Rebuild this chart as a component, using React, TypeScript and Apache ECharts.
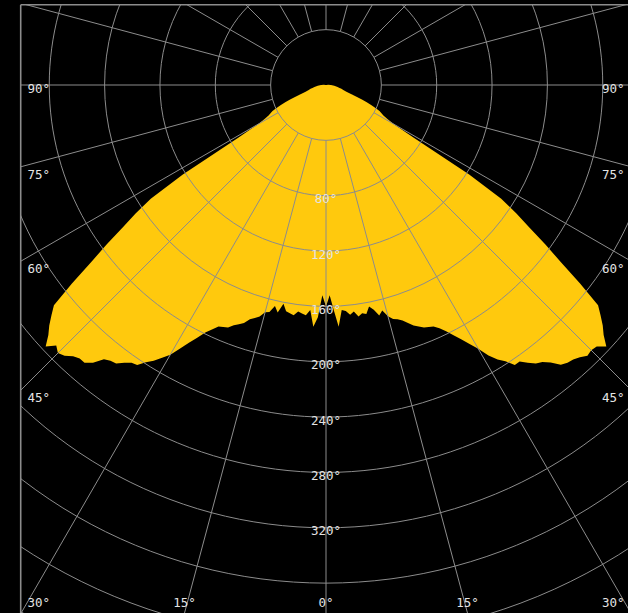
import React, { useEffect, useRef } from 'react';
import * as echarts from 'echarts';

// Polar angles (degrees from nadir) at which the intensity was read
const angles = [
  0, 1, 2, 3, 4, 5, 6, 7, 8, 9,
  10, 11, 12, 13, 14, 15, 16, 17, 18, 19,
  20, 21, 22, 23, 24, 25, 26, 27, 28, 29,
  30, 31, 32, 33, 34, 35, 36, 37, 38, 39,
  40, 41, 42, 43, 44, 45, 46, 47, 48, 49,
  50, 51, 52, 53, 54, 55, 56, 57, 58, 59,
  60, 61, 62, 63, 64, 65, 66, 67, 68, 69,
  70, 72, 74, 76, 78, 80, 85, 90, 95, 100, 180,
];

// Intensity on the left half (angles measured to the left of nadir)
const leftIntensity = [
  160, 152, 168, 175, 163, 167, 166, 165, 168, 167,
  166, 161, 168, 164, 169, 170, 174, 176, 178, 182,
  184, 186, 189, 190, 191, 195, 199, 205, 211, 218,
  225, 230, 235, 239, 244, 245, 248, 252, 253, 255,
  262, 266, 266, 268, 272, 274, 271, 277, 270, 265,
  259, 253, 233, 212, 196, 179, 166, 151, 122, 74,
  57, 51, 47, 45, 43, 40, 36, 32, 28, 24,
  20, 15.5, 13, 11.5, 10, 8.5, 6, 3.6, 1.5, 0.5, 0,
];

// Intensity on the right half
const rightIntensity = [
  160, 152, 163, 175, 163, 164, 167, 165, 169, 167,
  168, 163, 166, 171, 168, 173, 176, 177, 179, 182,
  185, 187, 189, 190, 191, 194, 198, 203, 208, 214,
  220, 228, 234, 238, 244, 244, 248, 252, 254, 258,
  264, 266, 267, 269, 272, 271, 272, 277, 270, 265,
  259, 253, 233, 212, 196, 179, 166, 151, 122, 74,
  57, 51, 47, 45, 43, 40, 36, 32, 28, 24,
  20, 15.5, 13, 11.5, 10, 8.5, 6, 3.6, 1.5, 0.5, 0,
];

// Radial tick labels shown along the nadir line
const radialLabels = [80, 120, 160, 200, 240, 280, 320];
// Angle labels shown at the frame edges
const angleLabels = [-90, -75, -60, -45, -30, -15, 0, 15, 30, 45, 60, 75, 90];

const R_MIN = 40;
const R_MAX = 480;
const R_STEP = 40;
const PX_PER_UNIT = 55.35 / 40;
const CENTER: [number, number] = [326, 85];

const YELLOW = '#ffc90d';
const GRID = '#8c8c8c';
const TEXT = '#e4e4e4';
const FONT = '"DejaVu Sans Mono", monospace';

// frame of the plot area (symmetric around the centre, cropped by the page)
const FRAME_LEFT = 20.7;
const FRAME_TOP = 4.7;
const FRAME_RIGHT = 2 * CENTER[0] - FRAME_LEFT;
const FRAME_BOTTOM = 613;
const LABEL_PAD = 6.8;
const BOTTOM_LABEL_Y = 602.3;

export default function App() {
  const ref = useRef<HTMLDivElement>(null);

  useEffect(() => {
    if (!ref.current) return;
    const chart = echarts.init(ref.current, undefined, { renderer: 'svg' });

    const points: number[][] = [];
    for (let i = angles.length - 1; i >= 0; i--) points.push([leftIntensity[i], -angles[i]]);
    for (let i = 1; i < angles.length; i++) points.push([rightIntensity[i], angles[i]]);

    chart.setOption({
      animation: false,
      backgroundColor: '#000000',
      polar: {
        center: CENTER,
        radius: [R_MIN * PX_PER_UNIT, R_MAX * PX_PER_UNIT],
      },
      angleAxis: {
        type: 'value',
        min: -180,
        max: 180,
        interval: 15,
        startAngle: 90,
        clockwise: false,
        z: 5,
        axisLine: { show: false },
        axisTick: { show: false },
        axisLabel: { show: false },
        splitLine: { show: true, lineStyle: { color: GRID, width: 1 } },
      },
      radiusAxis: {
        type: 'value',
        min: R_MIN,
        max: R_MAX,
        interval: R_STEP,
        z: 5,
        axisLine: { show: false },
        axisTick: { show: false },
        axisLabel: { show: false },
        splitLine: { show: true, lineStyle: { color: GRID, width: 1 } },
      },
      series: [
        {
          type: 'custom',
          coordinateSystem: 'polar',
          clip: false,
          silent: true,
          z: 1,
          data: points,
          renderItem: (params: any, api: any) => {
            if (params.dataIndex !== 0) return null;
            const pts = points.map((p) => api.coord(p));
            return {
              type: 'polygon',
              shape: { points: pts, smooth: 0 },
              style: { fill: YELLOW, stroke: null },
            };
          },
        },
      ],
    });

    const toPx = (v: number, a: number) =>
      chart.convertToPixel({ seriesIndex: 0 }, [v, a]) as unknown as number[];

    const elements: any[] = [];
    // masks outside the frame
    elements.push({ type: 'rect', z: 100, silent: true, shape: { x: 0, y: 0, width: FRAME_LEFT, height: 613 }, style: { fill: '#000' } });
    elements.push({ type: 'rect', z: 100, silent: true, shape: { x: 0, y: 0, width: 628, height: FRAME_TOP }, style: { fill: '#000' } });
    // frame borders
    elements.push({ type: 'line', z: 101, silent: true, shape: { x1: FRAME_LEFT, y1: FRAME_TOP, x2: 640, y2: FRAME_TOP }, style: { stroke: GRID, lineWidth: 1.6 } });
    elements.push({ type: 'line', z: 101, silent: true, shape: { x1: FRAME_LEFT, y1: FRAME_TOP, x2: FRAME_LEFT, y2: 640 }, style: { stroke: GRID, lineWidth: 1.6 } });

    // radial labels
    radialLabels.forEach((v) => {
      const p = toPx(v, 0);
      elements.push({
        type: 'text', z: 102, silent: true, x: p[0], y: p[1] + 3,
        style: { text: `${v}°`, fill: TEXT, fontFamily: FONT, fontSize: 12.5, align: 'center', verticalAlign: 'middle' },
      });
    });

    // angle labels where the rays leave the frame
    const c = toPx(0, 0);
    angleLabels.forEach((a) => {
      const far = toPx(R_MAX, a);
      let dx = far[0] - c[0];
      let dy = far[1] - c[1];
      const len = Math.hypot(dx, dy);
      dx /= len; dy /= len;
      if (Math.abs(dx) < 1e-9) dx = 0;
      if (Math.abs(dy) < 1e-9) dy = 0;
      const tSide = dx < 0 ? (FRAME_LEFT - c[0]) / dx : dx > 0 ? (FRAME_RIGHT - c[0]) / dx : Infinity;
      const tBottom = dy > 0 ? (FRAME_BOTTOM - c[1]) / dy : Infinity;
      const text = `${Math.abs(a)}°`;
      const w = text.length * 7.5;
      let x: number, y: number, align: string;
      if (tSide <= tBottom) {
        const hitY = c[1] + tSide * dy;
        y = Math.min(hitY + (dy === 0 ? 3.7 : 7.5), BOTTOM_LABEL_Y);
        if (dx < 0) { x = FRAME_LEFT + LABEL_PAD; align = 'left'; }
        else { x = FRAME_RIGHT - LABEL_PAD; align = 'right'; }
      } else {
        const hitX = c[0] + tBottom * dx;
        y = BOTTOM_LABEL_Y;
        if (hitX - w / 2 < FRAME_LEFT + LABEL_PAD) { x = FRAME_LEFT + LABEL_PAD; align = 'left'; }
        else if (hitX + w / 2 > FRAME_RIGHT - LABEL_PAD) { x = FRAME_RIGHT - LABEL_PAD; align = 'right'; }
        else { x = hitX; align = 'center'; }
      }
      elements.push({
        type: 'text', z: 102, silent: true, x, y,
        style: { text, fill: TEXT, fontFamily: FONT, fontSize: 12.5, align, verticalAlign: 'middle' },
      });
    });

    chart.setOption({ graphic: { elements } });

    return () => chart.dispose();
  }, []);

  return (
    <div style={{ position: 'fixed', left: 0, top: 0, width: 628, height: 613, background: '#000' }}>
      <div ref={ref} style={{ width: 628, height: 613 }} />
    </div>
  );
}
